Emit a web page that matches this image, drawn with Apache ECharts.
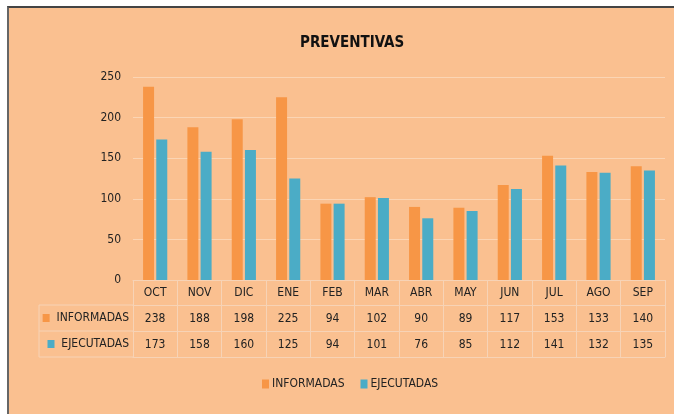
<!DOCTYPE html>
<html>
<head>
<meta charset="utf-8">
<script src="https://cdn.jsdelivr.net/npm/echarts@6/dist/echarts.min.js"></script>
<style>
  html, body { margin: 0; padding: 0; background: #fff; }
  #frame {
    position: absolute; left: 7px; top: 6px; width: 670px; height: 410px;
    background: #FAC090; border-top: 2px solid #444; border-left: 2px solid #666;
  }
  #chart { position: absolute; left: 0; top: 0; width: 674px; height: 414px; }
</style>
</head>
<body>
<div id="frame"></div>
<div id="chart"></div>
<script>
const months = ['OCT', 'NOV', 'DIC', 'ENE', 'FEB', 'MAR', 'ABR', 'MAY', 'JUN', 'JUL', 'AGO', 'SEP'];
const informadas = [238, 188, 198, 225, 94, 102, 90, 89, 117, 153, 133, 140];
const ejecutadas = [173, 158, 160, 125, 94, 101, 76, 85, 112, 141, 132, 135];

const font = "'Liberation Sans Narrow', 'DejaVu Sans Condensed', sans-serif";
const orange = '#F79646';
const blue = '#4BACC6';
const lineCol = '#F7D3B6';

// filas de la tabla de datos (ejes extra debajo del eje de meses)
function tableAxis(offset, values, name, color) {
  return {
    type: 'category',
    data: months,
    position: 'bottom',
    offset: offset,
    axisLine: { show: true, lineStyle: { color: lineCol, width: 1 } },
    axisTick: { show: false },
    axisLabel: values ? {
      show: true, margin: 8, color: '#222', fontSize: 12, fontFamily: font,
      formatter: (v, i) => String(values[i])
    } : { show: false },
    name: name || '',
    nameLocation: 'start',
    nameGap: 4,
    nameTextStyle: {
      color: '#222', fontSize: 12, fontFamily: font, verticalAlign: 'top', padding: [7, 0, 0, 0],
      rich: { sq: { backgroundColor: color, width: 7, height: 8 } }
    }
  };
}

const myChart = echarts.init(document.getElementById('chart'));
myChart.setOption({
  backgroundColor: 'transparent',
  animation: false,
  textStyle: { fontFamily: font },
  title: {
    text: 'PREVENTIVAS',
    left: 295,
    top: 31,
    textStyle: { fontFamily: font, fontSize: 15, fontWeight: 'bold', color: '#111' }
  },
  legend: {
    bottom: 19,
    left: 257,
    itemWidth: 7,
    itemHeight: 9,
    itemGap: 16,
    icon: 'rect',
    textStyle: { fontFamily: font, fontSize: 12, color: '#222', padding: [0, 0, 0, -2] },
    data: ['INFORMADAS', 'EJECUTADAS']
  },
  grid: { left: 133, right: 9, top: 77, bottom: 134 },
  xAxis: [
    {
      type: 'category',
      data: months,
      axisLine: { show: true, lineStyle: { color: lineCol } },
      axisTick: { show: true, alignWithLabel: false, length: 77, lineStyle: { color: lineCol } },
      axisLabel: { margin: 7, color: '#222', fontSize: 12, fontFamily: font }
    },
    tableAxis(25, informadas, '{sq|}  INFORMADAS', orange),
    tableAxis(51, ejecutadas, '{sq|}  EJECUTADAS', blue),
    tableAxis(77, null)
  ],
  yAxis: {
    type: 'value',
    min: 0,
    max: 250,
    interval: 50,
    axisLine: { show: false },
    axisTick: { show: false },
    axisLabel: { margin: 12, color: '#222', fontSize: 12, fontFamily: font },
    splitLine: { lineStyle: { color: '#FBD5B4', width: 1 } }
  },
  graphic: [
    { type: 'line', shape: { x1: 39, y1: 305, x2: 133, y2: 305 }, style: { stroke: lineCol } },
    { type: 'line', shape: { x1: 39, y1: 331, x2: 133, y2: 331 }, style: { stroke: lineCol } },
    { type: 'line', shape: { x1: 39, y1: 357, x2: 133, y2: 357 }, style: { stroke: lineCol } },
    { type: 'line', shape: { x1: 39, y1: 305, x2: 39, y2: 357 }, style: { stroke: lineCol } }
  ],
  series: [
    { name: 'INFORMADAS', type: 'bar', data: informadas, barWidth: 11, barGap: '20%', itemStyle: { color: orange } },
    { name: 'EJECUTADAS', type: 'bar', data: ejecutadas, barWidth: 11, itemStyle: { color: blue } }
  ]
});
</script>
</body>
</html>
